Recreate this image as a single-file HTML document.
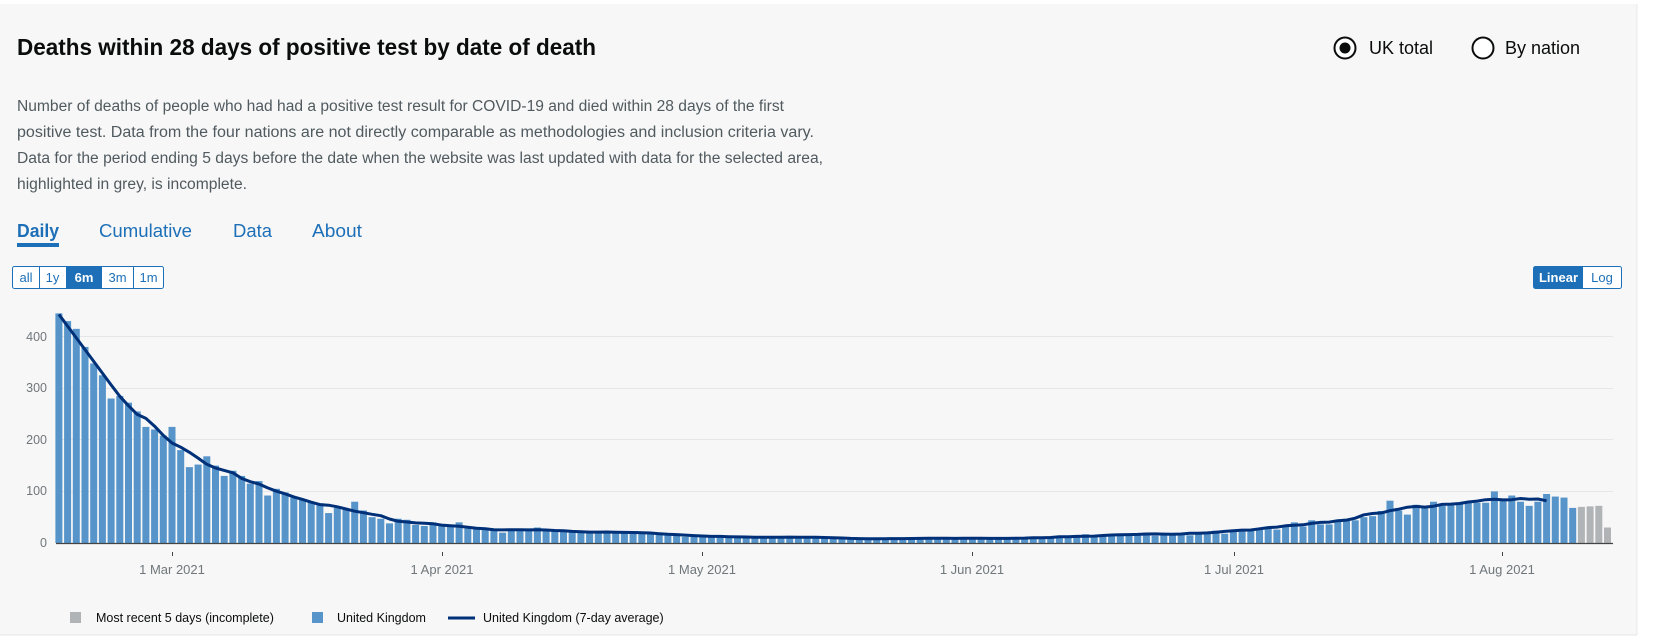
<!DOCTYPE html>
<html><head><meta charset="utf-8"><style>
html,body{margin:0;padding:0;background:#fff;}
svg{display:block;font-family:"Liberation Sans",sans-serif;}
</style></head><body>
<svg id="s" width="1669" height="637" viewBox="0 0 1669 637" xmlns="http://www.w3.org/2000/svg">
<rect x="0" y="4" width="1637" height="631" fill="#f7f7f7"/>
<line x1="1637" y1="4" x2="1637" y2="635" stroke="#eaeaea"/>
<line x1="0" y1="635" x2="1637" y2="635" stroke="#e5e5e5"/>
<text x="17" y="55" font-size="23" font-weight="bold" fill="#0b0c0c" textLength="579" lengthAdjust="spacingAndGlyphs">Deaths within 28 days of positive test by date of death</text>
<g font-size="15.5" fill="#505a5f">
<text x="17" y="111" textLength="767" lengthAdjust="spacingAndGlyphs">Number of deaths of people who had had a positive test result for COVID-19 and died within 28 days of the first</text>
<text x="17" y="137" textLength="797" lengthAdjust="spacingAndGlyphs">positive test. Data from the four nations are not directly comparable as methodologies and inclusion criteria vary.</text>
<text x="17" y="163" textLength="806" lengthAdjust="spacingAndGlyphs">Data for the period ending 5 days before the date when the website was last updated with data for the selected area,</text>
<text x="17" y="189" textLength="230" lengthAdjust="spacingAndGlyphs">highlighted in grey, is incomplete.</text>
</g>
<g font-size="18" fill="#1d70b8">
<text x="17" y="237" font-weight="bold" textLength="42" lengthAdjust="spacingAndGlyphs">Daily</text>
<text x="99" y="237" textLength="93" lengthAdjust="spacingAndGlyphs">Cumulative</text>
<text x="233" y="237" textLength="39" lengthAdjust="spacingAndGlyphs">Data</text>
<text x="312" y="237" textLength="50" lengthAdjust="spacingAndGlyphs">About</text>
</g>
<rect x="17" y="243" width="42" height="4" fill="#1d70b8"/>
<circle cx="1345" cy="48" r="10.5" fill="#fff" stroke="#0b0c0c" stroke-width="2"/>
<circle cx="1345" cy="48" r="5.5" fill="#0b0c0c"/>
<text x="1369" y="54" font-size="18" fill="#0b0c0c">UK total</text>
<circle cx="1483" cy="48" r="10.5" fill="#fff" stroke="#0b0c0c" stroke-width="2"/>
<text x="1505" y="54" font-size="18" fill="#0b0c0c">By nation</text>
<rect x="12.5" y="266.5" width="151" height="22" rx="2" fill="#fff" stroke="#1d70b8"/>
<rect x="66" y="267" width="36" height="21" fill="#1d70b8"/>
<g stroke="#1d70b8"><line x1="39.5" y1="267" x2="39.5" y2="288"/><line x1="133.5" y1="267" x2="133.5" y2="288"/></g>
<g font-size="13" fill="#1d70b8" text-anchor="middle">
<text x="26" y="282">all</text><text x="52.5" y="282">1y</text>
<text x="84" y="282" fill="#fff" font-weight="bold">6m</text>
<text x="117.5" y="282">3m</text><text x="148.5" y="282">1m</text>
</g>
<rect x="1533.5" y="266.5" width="88" height="22" rx="2" fill="#fff" stroke="#1d70b8"/>
<rect x="1534" y="267" width="49" height="21" fill="#1d70b8"/>
<text x="1558.5" y="282" font-size="13" font-weight="bold" fill="#fff" text-anchor="middle">Linear</text>
<text x="1602" y="282" font-size="13" fill="#1d70b8" text-anchor="middle">Log</text>
<g stroke="#e6e6e6" stroke-width="1">
<line x1="56" x2="1613" y1="491.5" y2="491.5"/><line x1="56" x2="1613" y1="439.5" y2="439.5"/>
<line x1="56" x2="1613" y1="388.5" y2="388.5"/><line x1="56" x2="1613" y1="336.5" y2="336.5"/>
</g>
<g font-size="12.5" fill="#6f777b" text-anchor="end">
<text x="47" y="547">0</text><text x="47" y="495">100</text><text x="47" y="444">200</text><text x="47" y="392">300</text><text x="47" y="341">400</text>
</g>
<g id="bars"></g>
<line x1="56" x2="1613" y1="543.5" y2="543.5" stroke="#444" stroke-width="1.2"/>
<path id="avg" fill="none" stroke="#003078" stroke-width="3" stroke-linejoin="round"/>
<g stroke="#444"><line x1="172.5" x2="172.5" y1="552" y2="556"/><line x1="442.5" x2="442.5" y1="552" y2="556"/><line x1="702.5" x2="702.5" y1="552" y2="556"/><line x1="972.5" x2="972.5" y1="552" y2="556"/><line x1="1234.5" x2="1234.5" y1="552" y2="556"/><line x1="1502.5" x2="1502.5" y1="552" y2="556"/></g>
<g font-size="13" fill="#6f777b" text-anchor="middle">
<text x="172" y="574">1 Mar 2021</text><text x="442" y="574">1 Apr 2021</text><text x="702" y="574">1 May 2021</text>
<text x="972" y="574">1 Jun 2021</text><text x="1234" y="574">1 Jul 2021</text><text x="1502" y="574">1 Aug 2021</text>
</g>
<rect x="70" y="612" width="11" height="11" fill="#b1b4b6"/>
<text x="96" y="622" font-size="12.5" fill="#0b0c0c">Most recent 5 days (incomplete)</text>
<rect x="312" y="612" width="11" height="11" fill="#5694ca"/>
<text x="337" y="622" font-size="12.5" fill="#0b0c0c">United Kingdom</text>
<line x1="448" x2="475" y1="618" y2="618" stroke="#003078" stroke-width="3"/>
<text x="483" y="622" font-size="12.5" fill="#0b0c0c">United Kingdom (7-day average)</text>
</svg>
<script>
var d=[445,430,415,380,348,325,280,285,272,255,225,220,208,
225,180,147,152,168,150,130,140,130,115,120,92,105,98,88,85,80,77,58,68,65,80,63,50,47,38,47,45,35,33,40,
35,32,40,28,27,25,28,20,26,26,26,30,25,25,22,22,20,22,21,20,21,22,23,18,19,19,18,17,12,15,
14,12,13,12,12,11,11,12,11,10,11,12,11,13,11,10,9,9,8,8,8,8,8,9,9,10,8,9,9,10,9,
9,9,10,9,9,8,8,10,11,12,12,10,12,17,12,14,14,15,18,19,20,14,17,19,17,15,18,22,24,18,
23,25,27,28,30,26,33,40,32,44,36,36,45,47,44,50,52,62,82,63,55,74,70,80,72,73,75,80,78,78,100,
85,92,80,72,80,95,90,88,68,70,71,72,30];
var ns="http://www.w3.org/2000/svg",g=document.getElementById("bars");
function X(i){return 172+(i-13)*8.7;}function Y(v){return 543-v*0.516;}
for(var i=0;i<d.length;i++){var r=document.createElementNS(ns,"rect");
r.setAttribute("x",(X(i)-3.5).toFixed(2));r.setAttribute("width","7");
r.setAttribute("y",Y(d[i]).toFixed(2));r.setAttribute("height",(d[i]*0.516).toFixed(2));
r.setAttribute("fill",i>=d.length-4?"#b1b4b6":"#5694ca");g.appendChild(r);}
var a=[];for(var i=3;i<=171;i++){var s=0;for(var k=-3;k<=3;k++)s+=d[i+k];a[i]=s/7;}
var slope=(a[3]-a[6])/3;a[0]=a[3]+3*slope;a[1]=a[3]+2*slope;a[2]=a[3]+slope;
var p="";for(var i=0;i<=171;i++){p+=(i?"L":"M")+X(i).toFixed(1)+" "+Y(a[i]).toFixed(1);}
document.getElementById("avg").setAttribute("d",p);
</script>
</body></html>
